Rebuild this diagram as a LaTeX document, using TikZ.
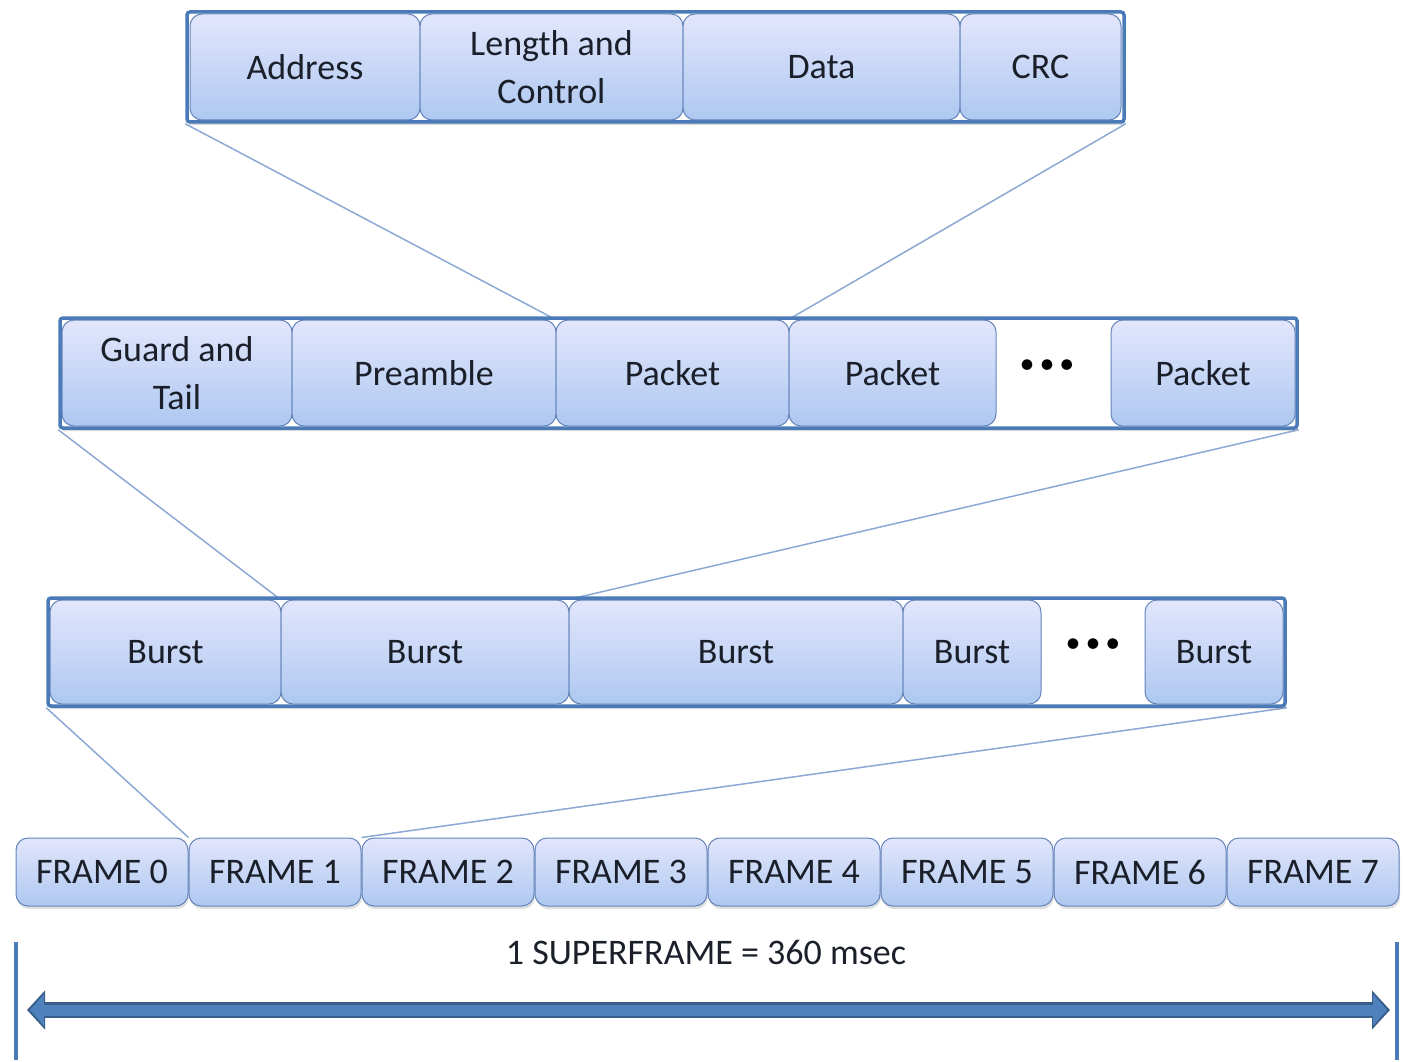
\documentclass[tikz,border=0pt]{standalone}
\usepackage{fontspec}
\setmainfont{Carlito}
\usetikzlibrary{arrows.meta,shadows,backgrounds}
\definecolor{celltop}{RGB}{226,230,252}
\definecolor{cellbot}{RGB}{174,200,240}
\definecolor{cellborder}{RGB}{100,132,186}
\definecolor{framecol}{RGB}{74,122,184}
\definecolor{linkcol}{RGB}{140,168,212}
\definecolor{txtcol}{RGB}{26,31,42}
\definecolor{arrowcol}{RGB}{79,129,189}
\definecolor{arrowdark}{RGB}{56,93,138}
\begin{document}
\begin{tikzpicture}[x=1pt,y=-1pt,
  cell/.style={draw=cellborder,line width=1pt,rounded corners=12pt,
    top color=celltop,bottom color=cellbot,text=txtcol,
    font=\fontsize{36}{48}\selectfont,align=center,inner sep=0pt},
  outer/.style={draw=framecol,line width=3.5pt,fill=white,rounded corners=3pt,
    drop shadow={shadow xshift=1pt,shadow yshift=-3pt,opacity=0.3},inner sep=0pt},
  gap/.style={inner sep=0pt,font=\fontsize{30}{30}\selectfont,text=black},
  fr/.style={cell,minimum width=172pt,minimum height=68pt,
    drop shadow={shadow xshift=1pt,shadow yshift=-3pt,opacity=0.25}},
  link/.style={draw=linkcol,line width=1.5pt},
  bar/.style={draw=framecol,line width=4pt}]
\useasboundingbox (0,0) rectangle (1403,1062);

% Row 1
\node[outer,minimum width=937pt,minimum height=110pt] (f1) at (655.5,67) {};
\node[cell,minimum width=230pt,minimum height=106pt] (addr) at (305,67) {Address};
\node[cell,minimum width=263pt,minimum height=106pt] (lc) at (551.5,67) {Length and\\Control};
\node[cell,minimum width=277pt,minimum height=106pt] (data) at (821.5,67) {Data};
\node[cell,minimum width=161pt,minimum height=106pt] (crc) at (1040.5,67) {CRC};

% Row 2
\node[outer,minimum width=1237pt,minimum height=110pt] (f2) at (678.5,373) {};
\node[cell,minimum width=230pt,minimum height=106pt] (gt) at (177,373) {Guard and\\Tail};
\node[cell,minimum width=264pt,minimum height=106pt] (pre) at (424,373) {Preamble};
\node[cell,minimum width=233pt,minimum height=106pt] (pk1) at (672.5,373) {Packet};
\node[cell,minimum width=207pt,minimum height=106pt] (pk2) at (892.5,373) {Packet};
\node[gap] (d2) at (1047,367) {•\hspace{5pt}•\hspace{5pt}•};
\node[cell,minimum width=184pt,minimum height=106pt] (pk3) at (1203,373) {Packet};

% Row 3
\node[outer,minimum width=1237pt,minimum height=108pt] (f3) at (666.5,652) {};
\node[cell,minimum width=231pt,minimum height=104pt] (b1) at (165.5,652) {Burst};
\node[cell,minimum width=288pt,minimum height=104pt] (b2) at (425,652) {Burst};
\node[cell,minimum width=334pt,minimum height=104pt] (b3) at (736,652) {Burst};
\node[cell,minimum width=138pt,minimum height=104pt] (b4) at (972,652) {Burst};
\node[gap] (d3) at (1093,646) {•\hspace{5pt}•\hspace{5pt}•};
\node[cell,minimum width=138pt,minimum height=104pt] (b5) at (1214,652) {Burst};

% Row 4
\node[fr] (fr0) at (102,872) {FRAME 0};
\node[fr] (fr1) at (275,872) {FRAME 1};
\node[fr] (fr2) at (448,872) {FRAME 2};
\node[fr] (fr3) at (621,872) {FRAME 3};
\node[fr] (fr4) at (794,872) {FRAME 4};
\node[fr] (fr5) at (967,872) {FRAME 5};
\node[fr] (fr6) at (1140,872) {FRAME 6};
\node[fr] (fr7) at (1313,872) {FRAME 7};

% Links
\begin{scope}[on background layer]
\draw[link] (f1.south west) -- (pk1.north west);
\draw[link] (f1.south east) -- (pk2.north west);
\draw[link] (f2.south west) -- (b2.north west);
\draw[link] (f2.south east) -- (b3.north west);
\draw[link] (f3.south west) -- (fr1.north west);
\draw[link] (f3.south east) -- (fr2.north west);
\end{scope}

% Superframe
\node[text=txtcol,font=\fontsize{36}{40}\selectfont,inner sep=0pt] (sf) at (706,952) {1 SUPERFRAME = 360 msec};
\coordinate (lt) at (16,942); \coordinate (lb) at (16,1060);
\coordinate (rt) at (1397,942); \coordinate (rb) at (1397,1060);
\draw[bar] (lt) -- (lb);
\draw[bar] (rt) -- (rb);
\coordinate (al) at (27,1010); \coordinate (ar) at (1390,1010);
\draw[arrowdark,line width=16pt,{Triangle[width=38pt,length=18pt]}-{Triangle[width=38pt,length=18pt]}] (al) -- (ar);
\draw[arrowcol,line width=11pt,shorten <=3pt,shorten >=3pt,{Triangle[width=31pt,length=14pt]}-{Triangle[width=31pt,length=14pt]}] (al) -- (ar);
\end{tikzpicture}
\end{document}
